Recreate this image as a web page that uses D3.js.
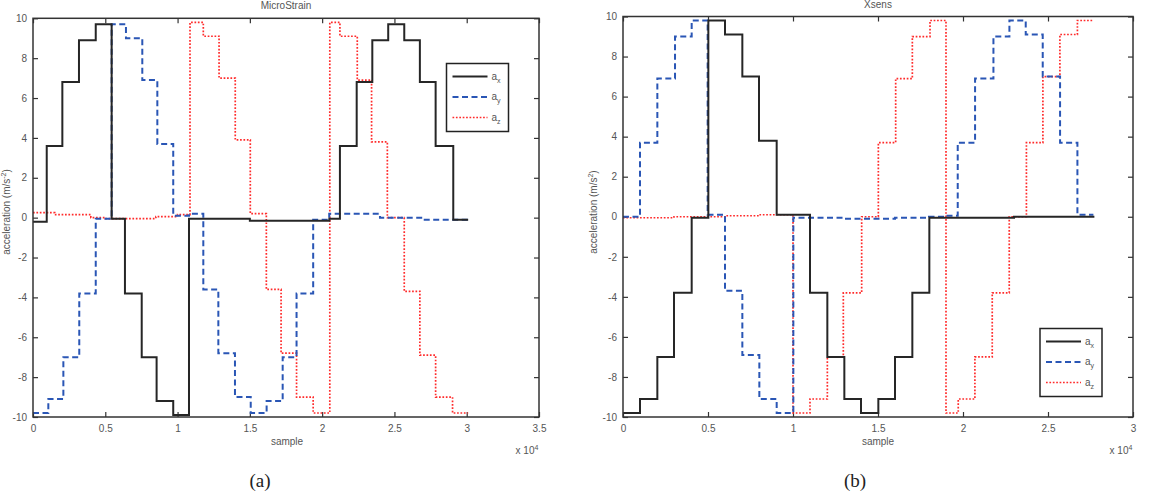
<!DOCTYPE html>
<html>
<head>
<meta charset="utf-8">
<script src="https://cdn.jsdelivr.net/npm/d3@7"></script>
<style>
  body { margin: 0; background: #fff; }
  svg { display: block; }
  .tick text { font-family: "Liberation Sans", Arial, sans-serif; font-size: 10px; fill: #555; }
  .lbl { font-family: "Liberation Sans", Arial, sans-serif; font-size: 10px; fill: #555; }
  .cap { font-family: "Liberation Serif", "DejaVu Serif", serif; font-size: 19px; fill: #222; }
</style>
</head>
<body>
<svg id="chart" width="1150" height="498"></svg>
<script>
// step series, [sample, value] pairs, value holds until next sample

// (a) MicroStrain
const msAx = [[0,-0.2],[950,3.6],[2030,6.8],[3180,8.9],[4340,9.7],[5440,-0.05],[6360,-3.8],[7520,-7.0],[8550,-9.2],[9700,-9.9],
  [10790,-0.05],[15000,-0.15],[19000,-0.15],[20500,-0.05],[21230,3.6],[22390,6.8],[23470,8.9],[24570,9.7],[25680,8.9],
  [26760,6.8],[27850,3.6],[29070,-0.1],[30100,-0.1]];
const msAy = [[0,-9.8],[1060,-9.1],[2100,-7.0],[3200,-3.8],[4340,-0.05],[5440,9.7],[6430,9.0],[7560,6.9],[8600,3.7],
  [9700,0.1],[10790,0.2],[11780,-3.6],[12820,-6.8],[13970,-9.0],[15060,-9.8],[16160,-9.2],[17270,-7.0],[18230,-3.8],
  [19380,-0.1],[20490,0.2],[24000,0.0],[27000,-0.1],[30100,-0.1]];
const msAz = [[0,0.25],[1500,0.15],[4000,0.0],[5000,-0.05],[7000,-0.05],[8500,0.05],[10000,0.15],[10860,9.8],[11780,9.1],
  [12870,7.0],[13990,3.9],[15030,0.2],[16140,-3.6],[17160,-6.8],[18230,-9.0],[19380,-9.8],[20530,9.8],[21230,9.1],
  [22430,6.9],[23420,3.8],[24510,0.0],[25680,-3.7],[26760,-6.9],[27850,-9.0],[29020,-9.8],[30100,-9.8]];

// (b) Xsens
const xsAx = [[0,-9.8],[1000,-9.1],[2020,-7.0],[3000,-3.8],[4040,-0.05],[5020,9.8],[6000,9.1],[7020,7.0],[8000,3.8],
  [9040,0.1],[11000,-3.8],[12020,-7.0],[13020,-9.1],[14000,-9.8],[15020,-9.1],[16000,-7.0],[17020,-3.8],
  [18020,-0.05],[23000,0.0],[27670,0.05]];
const xsAy = [[0,0.0],[1000,3.7],[2020,6.9],[3060,9.0],[4040,9.8],[4980,0.1],[6000,-3.7],[7020,-6.9],[8020,-9.1],
  [9040,-9.8],[10020,-0.05],[13000,-0.1],[16000,-0.05],[18000,0.0],[19000,0.05],[19690,3.7],[20710,6.9],[21790,9.0],
  [22730,9.8],[23690,9.1],[24690,7.0],[25710,3.7],[26730,0.1],[27670,0.1]];
const xsAz = [[0,-0.05],[3000,0.0],[6000,0.05],[8000,0.1],[10000,-9.8],[11000,-9.1],[12020,-7.0],[12960,-3.8],
  [14040,0.0],[15020,3.7],[16040,6.9],[17020,9.0],[18060,9.8],[19000,-9.8],[19720,-9.1],[20700,-7.0],[21720,-3.8],
  [22720,0.0],[23730,3.7],[24700,7.0],[25700,9.1],[26730,9.8],[27670,9.8]];

const yTicks = [-10, -8, -6, -4, -2, 0, 2, 4, 6, 8, 10];
const msXTicks = [0, 5000, 10000, 15000, 20000, 25000, 30000, 35000];
const xsXTicks = [0, 5000, 10000, 15000, 20000, 25000, 30000];
const seriesNames = ['x', 'y', 'z'];

const styles = [
  { color: '#262626', width: 2, dash: null },
  { color: '#2a56b5', width: 2, dash: '6,3.5' },
  { color: '#ff2b2b', width: 1.7, dash: '1.7,1.7' }
];

const svg = d3.select('#chart');

function drawPanel(opt) {
  const x = d3.scaleLinear().domain(opt.xDomain).range([opt.left, opt.right]);
  const y = d3.scaleLinear().domain([-10, 10]).range([opt.bottom, opt.top]);
  const g = svg.append('g');

  g.append('rect')
    .attr('x', opt.left).attr('y', opt.top)
    .attr('width', opt.right - opt.left).attr('height', opt.bottom - opt.top)
    .attr('fill', '#fff');

  const axes = [
    { a: d3.axisBottom(x), t: 'translate(0,' + opt.bottom + ')', lab: true },
    { a: d3.axisTop(x), t: 'translate(0,' + opt.top + ')', lab: false },
    { a: d3.axisLeft(y), t: 'translate(' + opt.left + ',0)', lab: true },
    { a: d3.axisRight(y), t: 'translate(' + opt.right + ',0)', lab: false }
  ];
  axes.forEach((ax, i) => {
    const isX = i < 2;
    ax.a.tickValues(isX ? opt.xTicks : yTicks)
      .tickSize(-5).tickPadding(isX ? 8 : 6)
      .tickFormat(isX ? (d => ax.lab ? String(d / 1e4) : '') : (d => ax.lab ? String(d) : ''));
    const ag = g.append('g').attr('transform', ax.t).call(ax.a);
    ag.select('.domain').remove();
    ag.selectAll('.tick line').attr('stroke', '#333').attr('stroke-width', 1.2);
  });

  const line = d3.line()
    .x(d => x(d[0]))
    .y(d => y(d[1]))
    .curve(d3.curveStepAfter);

  // draw z first so x sits on top like the reference
  [2, 1, 0].forEach(i => {
    const s = styles[i];
    g.append('path')
      .datum(opt.series[i])
      .attr('d', line)
      .attr('fill', 'none')
      .attr('stroke', s.color)
      .attr('stroke-width', s.width)
      .attr('stroke-dasharray', s.dash);
  });

  g.append('rect')
    .attr('x', opt.left).attr('y', opt.top)
    .attr('width', opt.right - opt.left).attr('height', opt.bottom - opt.top)
    .attr('fill', 'none').attr('stroke', '#333').attr('stroke-width', 1.5);

  // title
  g.append('text').attr('class', 'lbl')
    .attr('x', (opt.left + opt.right) / 2).attr('y', opt.top - 9)
    .attr('text-anchor', 'middle').text(opt.title);

  // y label
  const yl = g.append('text').attr('class', 'lbl')
    .attr('transform', 'translate(' + opt.ylabX + ',' + 212 + ') rotate(-90)')
    .attr('text-anchor', 'middle');
  yl.append('tspan').text('acceleration (m/s');
  yl.append('tspan').attr('dy', -4).attr('font-size', '7px').text(opt.unitExp);
  yl.append('tspan').attr('dy', 4).text(')');

  // x label and exponent
  g.append('text').attr('class', 'lbl')
    .attr('x', opt.sampleX).attr('y', 445)
    .attr('text-anchor', 'middle').text('sample');
  const ex = g.append('text').attr('class', 'lbl')
    .attr('x', opt.right - 12).attr('y', 454).attr('text-anchor', 'middle');
  ex.append('tspan').text('x 10');
  ex.append('tspan').attr('dy', -4).attr('font-size', '7px').text('4');

  // legend
  const lg = g.append('g').attr('transform', 'translate(' + opt.legX + ',' + opt.legY + ')');
  lg.append('rect').attr('width', 62).attr('height', 68)
    .attr('fill', '#fff').attr('stroke', '#222').attr('stroke-width', 1.5);
  seriesNames.forEach((n, i) => {
    const s = styles[i];
    const yy = 13 + i * 20.5;
    lg.append('line').attr('x1', 6).attr('x2', 41).attr('y1', yy).attr('y2', yy)
      .attr('stroke', s.color).attr('stroke-width', s.width).attr('stroke-dasharray', s.dash);
    const t = lg.append('text').attr('class', 'lbl').attr('x', 45).attr('y', yy + 3);
    t.append('tspan').text('a');
    t.append('tspan').attr('dy', 3).attr('font-size', '7px').text(n);
  });

  // caption
  svg.append('text').attr('class', 'cap')
    .attr('x', opt.capX).attr('y', 487).attr('text-anchor', 'middle').text(opt.caption);
}

drawPanel({
  left: 33, right: 539, top: 18.3, bottom: 417,
  xDomain: [0, 35000], xTicks: msXTicks,
  series: [msAx, msAy, msAz],
  title: 'MicroStrain', unitExp: '-2', ylabX: 10, sampleX: 287,
  legX: 446.5, legY: 63.5, capX: 260, caption: '(a)'
});

drawPanel({
  left: 623, right: 1133, top: 16.5, bottom: 417,
  xDomain: [0, 30000], xTicks: xsXTicks,
  series: [xsAx, xsAy, xsAz],
  title: 'Xsens', unitExp: '2', ylabX: 597, sampleX: 878,
  legX: 1040, legY: 328.5, capX: 855, caption: '(b)'
});
</script>
</body>
</html>
